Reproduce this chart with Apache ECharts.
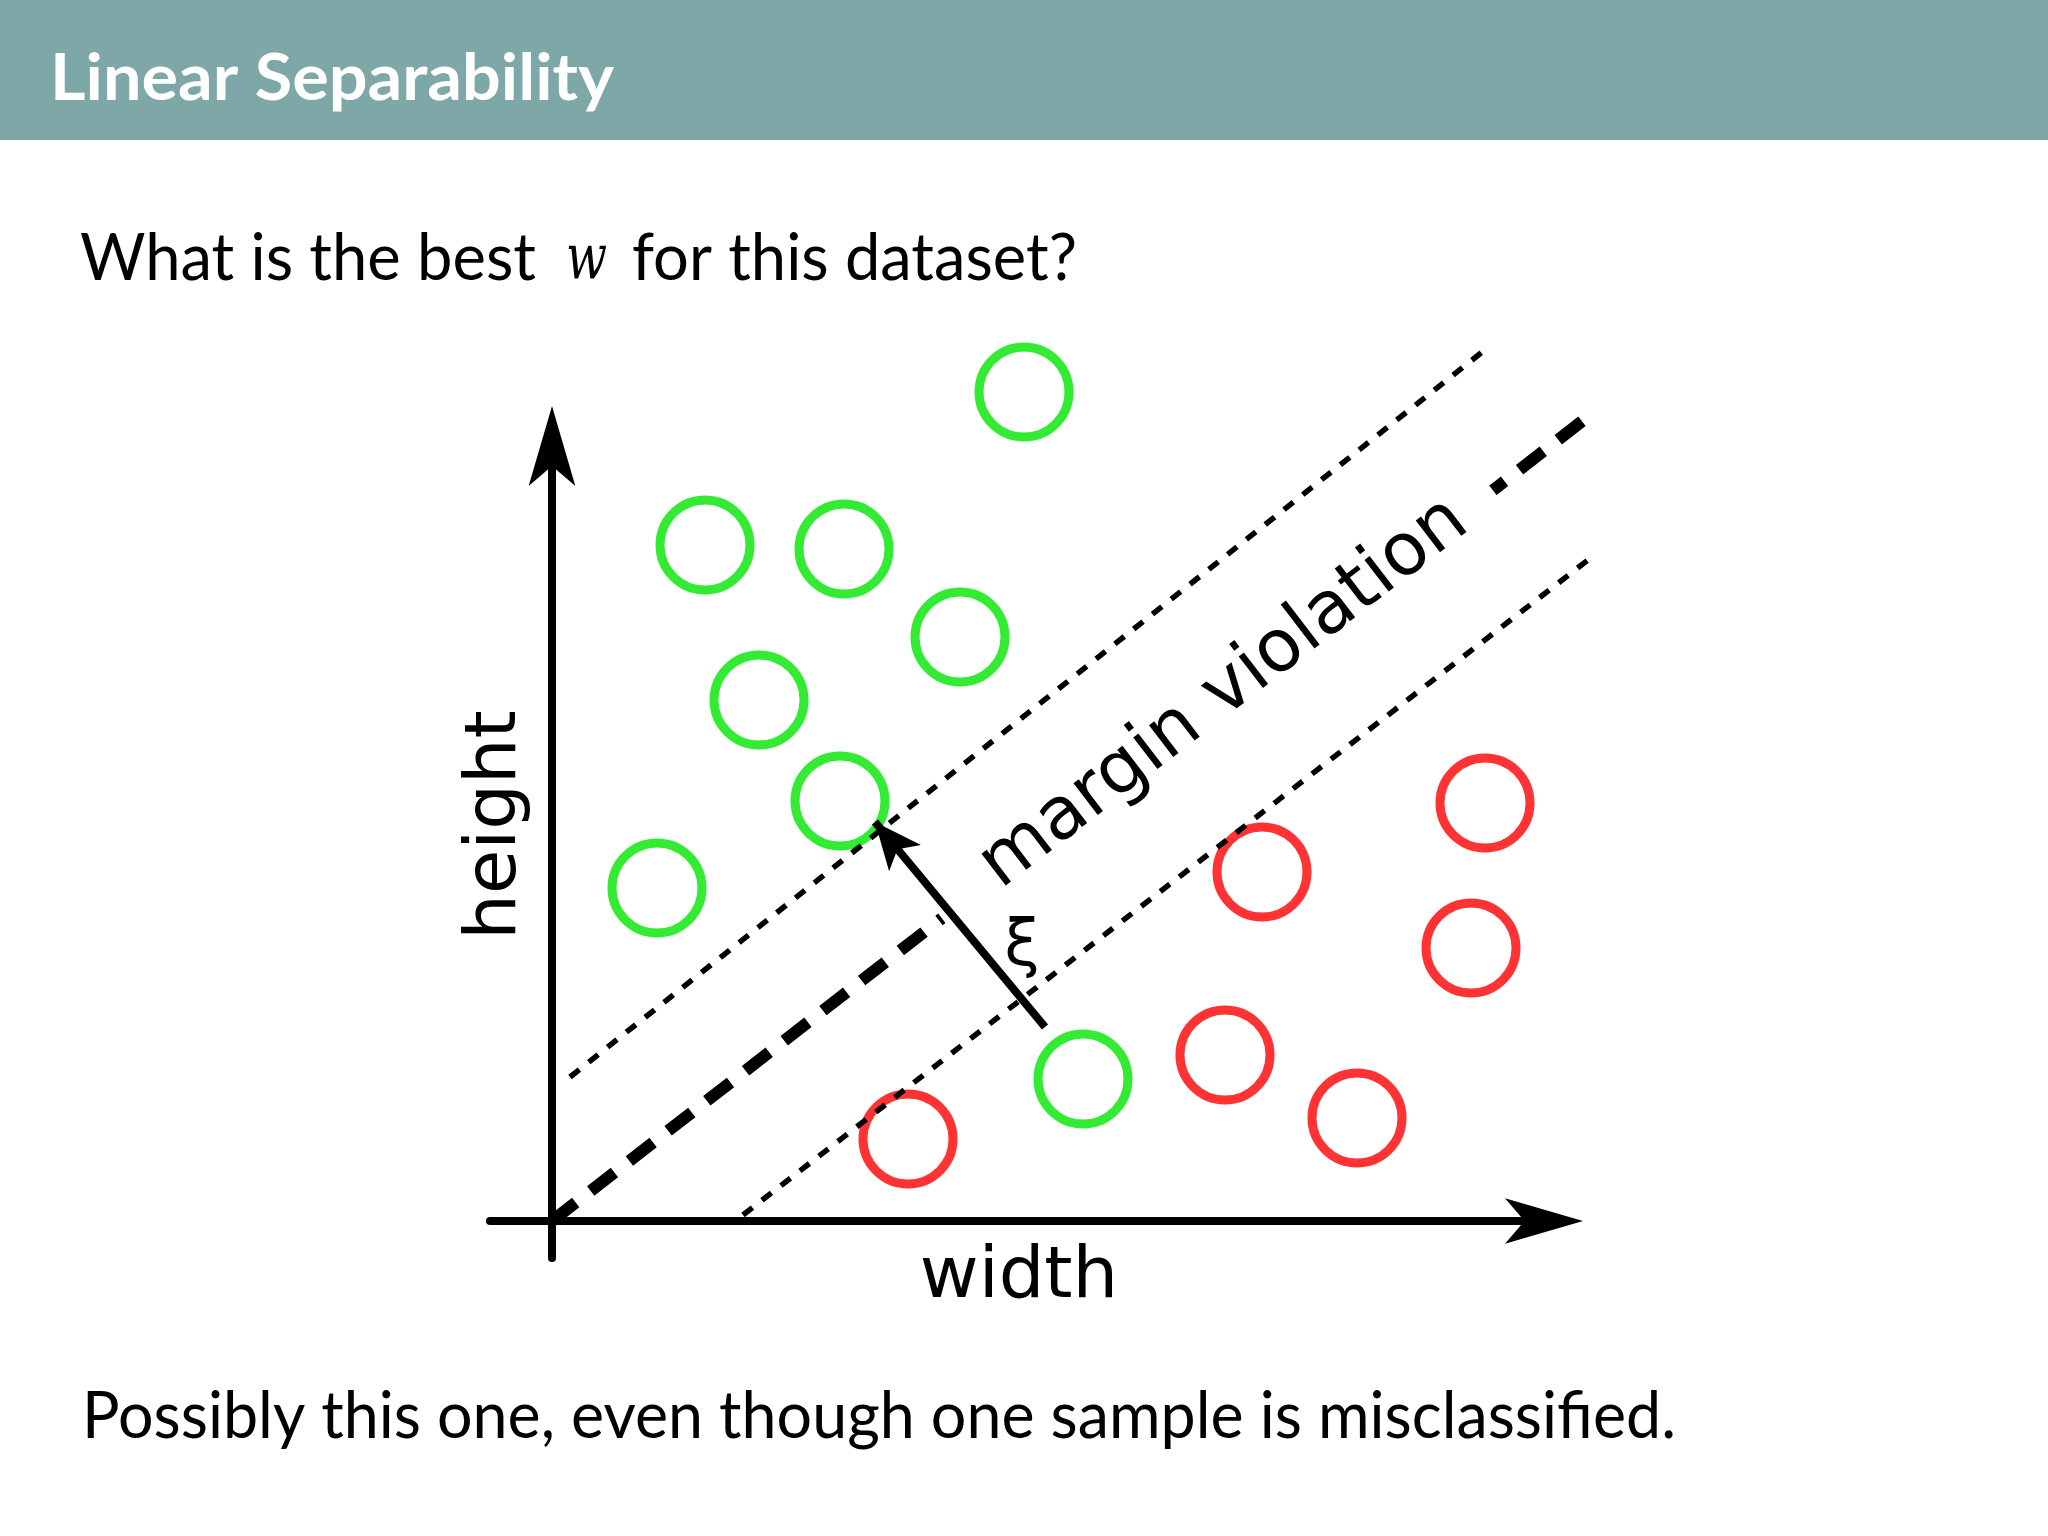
<!DOCTYPE html>
<html lang="en">
<head>
<meta charset="utf-8" />
<title>Linear Separability</title>
<script src="https://cdn.jsdelivr.net/npm/echarts@6.0.0/dist/echarts.min.js"></script>
<style>
  html, body { margin: 0; padding: 0; background: #fff; }
  #slide { width: 2048px; height: 1536px; }
</style>
</head>
<body>
<div id="slide"></div>
<script>
const palette = {
  ink: "#000000",
  green: "#00e600",
  red: "#ff0000",
  header: "#7ea8a7",
  paper: "#ffffff",
};

// samples in axis units, origin where the two arrows cross
const greenSamples = [
  [4.72, 8.29], [1.53, 6.76], [2.92, 6.72], [4.08, 5.84],
  [2.07, 5.21], [2.88, 4.2], [1.05, 3.33], [5.31, 1.42],
];
const redSamples = [
  [9.33, 4.18], [7.1, 3.49], [9.19, 2.73],
  [6.73, 1.66], [8.05, 1.03], [3.56, 0.82],
];

// separating line and its two margins (end points)
const boundary = [[0, 0], [10.38, 8.06]];
const upperMargin = [[0.18, 1.44], [9.34, 8.72]];
const lowerMargin = [[1.91, 0.06], [10.36, 6.61]];
// slack of the misclassified green sample, pointing back to its margin
const slack = [[4.93, 1.94], [3.23, 3.99]];

const titleText = "Linear Separability";
const questionParts = ["What is the best", "w", "for this dataset?"];
const answerText = "Possibly this one, even though one sample is misclassified.";
const xName = "width";
const yName = "height";
const bandLabel = "margin violation";
const slackLabel = "ξ";

const measureCtx = document.createElement("canvas").getContext("2d");

function measure(text, font) {
  measureCtx.font = font;
  const m = measureCtx.measureText(text);
  return { width: m.width, mid: (m.fontBoundingBoxAscent - m.fontBoundingBoxDescent) / 2 };
}

// left aligned slide text, squeezed to the width it has on the slide
function slideText(text, font, left, right, baseline, color) {
  const m = measure(text, font);
  return {
    type: "text",
    x: left,
    y: baseline - m.mid,
    scaleX: (right - left) / m.width,
    z: 10,
    silent: true,
    style: { text, font, fill: color || palette.ink, textAlign: "left", textVerticalAlign: "middle" },
  };
}

// figure label centred on a baseline point, turned anticlockwise by angle
function figureText(text, size, cx, baseline, angle, extra) {
  const font = `${size}px "DejaVu Sans"`;
  const m = measure(text, font);
  return {
    type: "text",
    x: cx - m.mid * Math.sin(angle),
    y: baseline - m.mid * Math.cos(angle),
    rotation: angle,
    z: 10,
    silent: true,
    style: Object.assign(
      { text, font, fill: palette.ink, textAlign: "center", textVerticalAlign: "middle" },
      extra || {},
    ),
  };
}

const bandAngle = (37.5 * Math.PI) / 180;
// the white box is wider on its left, which pushes the glyphs right by half the difference
const bandShift = 12;

const graphics = [
  { type: "rect", z: 0, silent: true, shape: { x: 0, y: 0, width: 2048, height: 140 }, style: { fill: palette.header } },
  slideText(titleText, 'bold 65px "Lato"', 50, 614, 104, palette.paper),
  slideText(questionParts[0], '66px "Lato"', 80, 536, 284),
  slideText(questionParts[1], 'italic 63px "DejaVu Serif"', 566, 607, 284),
  slideText(questionParts[2], '66px "Lato"', 632, 1077, 284),
  slideText(answerText, '65px "Lato"', 82, 1676, 1442),
  figureText(xName, 72, 1019, 1303, 0),
  figureText(yName, 72, 521, 825, Math.PI / 2),
  Object.assign(
    figureText(
      bandLabel, 73,
      1240 - bandShift * Math.cos(bandAngle),
      714 + bandShift * Math.sin(bandAngle),
      bandAngle,
      { backgroundColor: palette.paper, padding: [6, 40, 6, 64] },
    ),
    { z: 3 },
  ),
  Object.assign(figureText(slackLabel, 64, 1022, 970, 0), { z: 8 }),
];

function hollowDots(data, color) {
  return {
    type: "scatter",
    data,
    z: 1,
    silent: true,
    clip: false,
    symbol: "circle",
    symbolSize: 90,
    itemStyle: { color: "rgba(0,0,0,0)", borderColor: color, borderWidth: 9 },
  };
}

function dashedLine(ends, width, dash) {
  return {
    type: "lines",
    coordinateSystem: "cartesian2d",
    polyline: false,
    z: 2,
    silent: true,
    clip: false,
    symbol: "none",
    lineStyle: { color: palette.ink, width, type: dash, cap: "butt", opacity: 1 },
    data: [{ coords: ends }],
  };
}

const axisLineBase = { onZero: true, symbol: ["none", "arrow"], lineStyle: { color: palette.ink, width: 8 } };

const option = {
  animation: false,
  backgroundColor: palette.paper,
  graphic: { elements: graphics },
  grid: { left: 490, right: 488, top: 431, bottom: 278, containLabel: false, outerBoundsMode: "none" },
  xAxis: {
    type: "value",
    min: -0.62,
    max: 10.08,
    axisLine: Object.assign({}, axisLineBase, { symbolSize: [34, 78], symbolOffset: [0, 23] }),
    axisTick: { show: false },
    axisLabel: { show: false },
    splitLine: { show: false },
  },
  yAxis: {
    type: "value",
    min: -0.37,
    max: 7.9,
    axisLine: Object.assign({}, axisLineBase, { symbolSize: [35, 80], symbolOffset: [0, 25] }),
    axisTick: { show: false },
    axisLabel: { show: false },
    splitLine: { show: false },
  },
  series: [
    hollowDots(greenSamples, palette.green),
    Object.assign(hollowDots(redSamples, palette.red), {
      markLine: {
        silent: true,
        z: 5,
        animation: false,
        symbol: ["none", "arrow"],
        label: { show: false },
        lineStyle: { color: palette.ink, width: 8, type: "solid", opacity: 1 },
        data: [[
          { coord: slack[0], symbol: "none" },
          { coord: slack[1], symbol: "arrow", symbolSize: [31, 47] },
        ]],
      },
    }),
    dashedLine(boundary, 12, [30, 19]),
    dashedLine(upperMargin, 5.5, [12, 12]),
    dashedLine(lowerMargin, 5.5, [12, 12]),
  ],
};

const chart = echarts.init(document.getElementById("slide"), null, { renderer: "canvas" });
chart.setOption(option);
</script>
</body>
</html>
